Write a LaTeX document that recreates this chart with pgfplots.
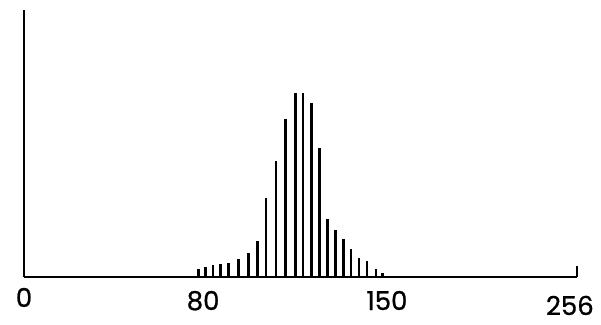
\documentclass[border=0pt]{standalone}
\usepackage{pgfplots}
\pgfplotsset{compat=1.18}
\usepackage{fontspec}
\setmainfont{Poppins}
\newfontfamily\lab[FakeBold=0.8]{Poppins}
\begin{document}
\begin{tikzpicture}
\begin{axis}[
  name=ax, scale only axis, width=553pt, height=267pt,
  xmin=0, xmax=256, ymin=0, ymax=267,
  axis x line=bottom, axis y line=left,
  axis line style={line width=1.5pt, -},
  xtick={0,82.9,168,252.7},
  xticklabels={\raisebox{3pt}{0},80,150,\raisebox{-5pt}{256}},
  ytick=\empty, major tick length=0pt,
  xticklabel style={font=\lab\fontsize{26}{26}\selectfont, anchor=base, yshift=-33pt, inner sep=0pt},
  clip=false,
]
\addplot[ycomb, line width=2.6pt, black, mark=none] coordinates {
(80.7,7.7) (84.1,10.3) (87.5,12) (91.1,13.3) (94.8,14.3) (99.4,17.7) (103.8,23.7) (108.2,35.7)
(112.0,79) (116.7,116.3) (121.1,157.7) (125.6,184.3) (129.2,184.3) (133.0,174.3) (136.7,128.7)
(140.4,57.7) (144.3,47) (147.8,38.3) (151.4,28.3) (155.1,19.3) (158.8,16) (162.9,7.7) (165.9,4.3)
};
\draw[line width=1.5pt] (axis cs:256,0) -- (axis cs:256,11);
\end{axis}
\path ([shift={(-24pt,-47pt)}]ax.south west) rectangle ([shift={(24pt,10pt)}]ax.north east);
\end{tikzpicture}
\end{document}
